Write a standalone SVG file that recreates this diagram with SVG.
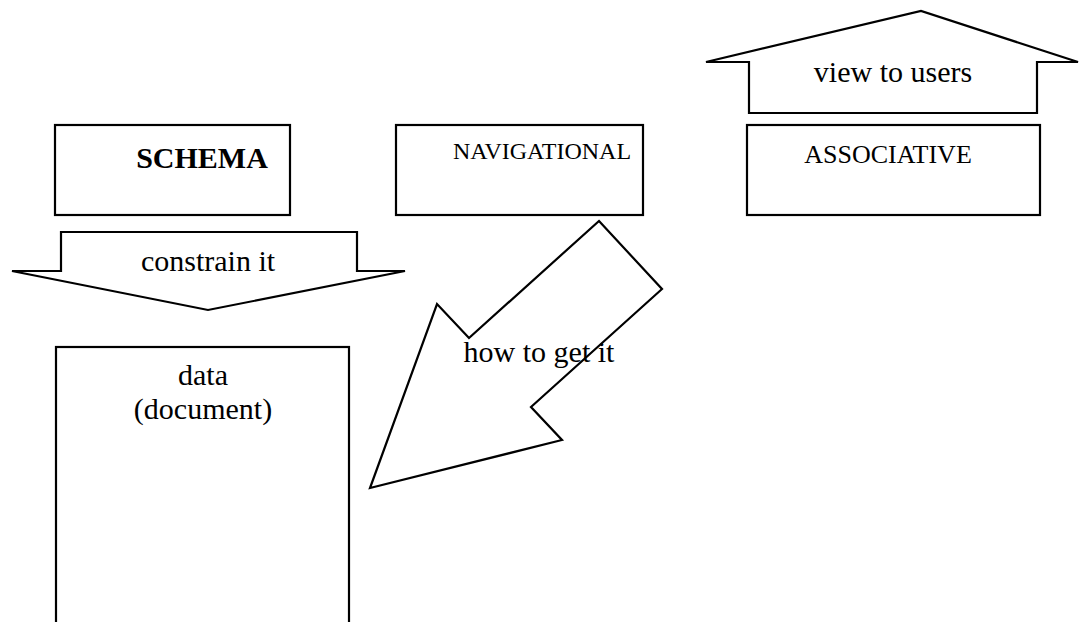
<svg xmlns="http://www.w3.org/2000/svg" width="1082" height="622" viewBox="0 0 1082 622">
<style>
.s{fill:#fff;stroke:#000;stroke-width:2.2;stroke-linejoin:miter}
text{font-family:"Liberation Serif","Times New Roman",serif;fill:#000;text-anchor:middle}
.t30{font-size:30px}
</style>
<rect width="1082" height="622" fill="#fff"/>
<g id="connectors">
<g id="view-to-users">
<polygon class="s" points="749,113 1037,113 1037,62 1078,62 921,11 706,62 749,62"/>
<text class="t30" x="893" y="82">view to users</text>
</g>
<g id="constrain-it">
<polygon class="s" points="61,232 357,232 357,271 405,271 208,310 12,271 61,271"/>
<text class="t30" x="208" y="271">constrain it</text>
</g>
<g id="how-to-get-it">
<polygon class="s" points="599,221 662,289 531,407 562,440 370,488 437,304 469,338"/>
<text class="t30" x="539" y="362">how to get it</text>
</g>
</g>
<g id="schema">
<rect class="s" x="55" y="125" width="235" height="90"/>
<text class="t30" x="202" y="168" font-weight="bold">SCHEMA</text>
</g>
<g id="navigational">
<rect class="s" x="396" y="125" width="247" height="90"/>
<text x="542" y="159" font-size="24">NAVIGATIONAL</text>
</g>
<g id="associative">
<rect class="s" x="747" y="125" width="293" height="90"/>
<text x="888" y="163" font-size="26">ASSOCIATIVE</text>
</g>
<g id="data">
<rect class="s" x="56" y="347" width="293" height="290"/>
<text class="t30" x="203" y="385">data</text>
<text class="t30" x="203" y="419">(document)</text>
</g>
</svg>
